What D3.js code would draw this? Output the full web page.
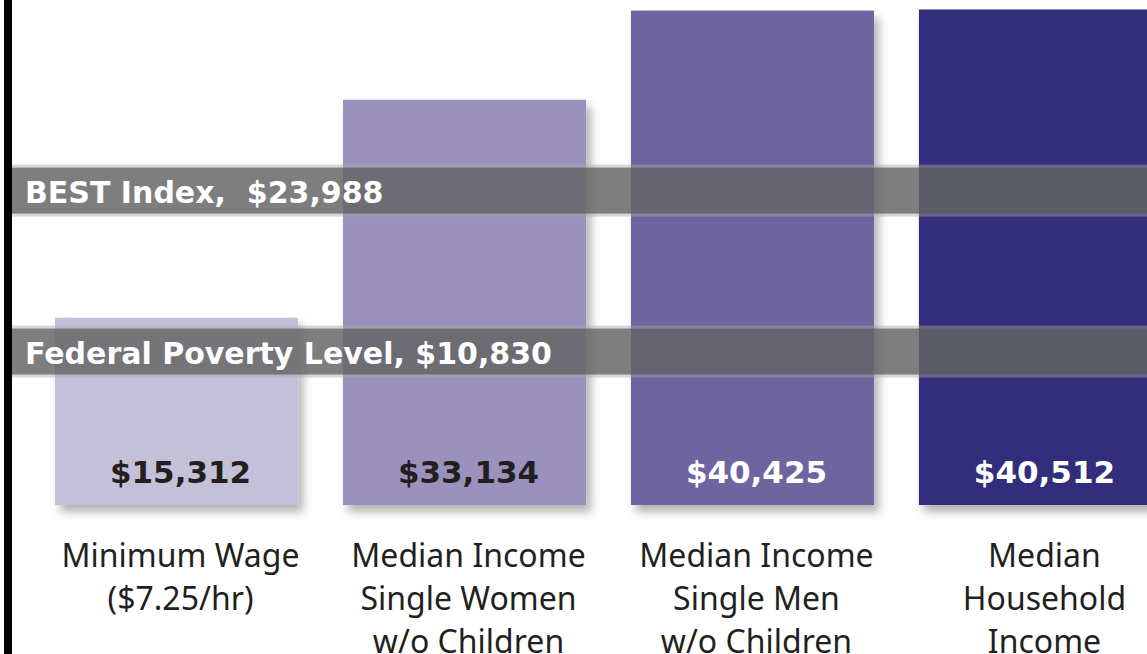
<!DOCTYPE html>
<html>
<head>
<meta charset="utf-8">
<script src="https://cdn.jsdelivr.net/npm/d3@7"></script>
<style>
  html, body { margin: 0; padding: 0; background: #fff; overflow: hidden; }
  svg { display: block; }
</style>
</head>
<body>
<svg id="vis"></svg>
<script>
// data
const categories = ["Minimum Wage", "Median Income Single Women", "Median Income Single Men", "Median Household Income"];
const categoryLines = [
  ["Minimum Wage", "($7.25/hr)"],
  ["Median Income", "Single Women", "w/o Children"],
  ["Median Income", "Single Men", "w/o Children"],
  ["Median", "Household", "Income"]
];
const incomes = [15312, 33134, 40425, 40512];
const valueLabels = ["$15,312", "$33,134", "$40,425", "$40,512"];
const refNames = ["BEST Index,  $23,988", "Federal Poverty Level, $10,830"];
const refValues = [23988, 10830];

const barColors = ["#c5c0da", "#9a92bc", "#6e65a0", "#302e7c"];
const labelColors = ["#231f20", "#231f20", "#ffffff", "#ffffff"];

const width = 1147,
      height = 654,
      baseline = 505;

const svg = d3.select("#vis")
  .attr("width", width)
  .attr("height", height);

const defs = svg.append("defs");
defs.append("filter")
    .attr("id", "shadow")
    .attr("x", "-10%").attr("y", "-10%")
    .attr("width", "130%").attr("height", "130%")
  .append("feDropShadow")
    .attr("dx", 5).attr("dy", 7)
    .attr("stdDeviation", 5)
    .attr("flood-color", "#000")
    .attr("flood-opacity", 0.3);

const x = d3.scaleBand()
  .domain(categories)
  .range([55, 1162])
  .paddingInner(0.156)
  .paddingOuter(0);

const y = d3.scaleLinear()
  .domain([0, 40470])
  .range([baseline, 10]);

// bars
svg.append("g")
  .selectAll("rect")
  .data(incomes)
  .join("rect")
    .attr("x", (d, i) => x(categories[i]))
    .attr("y", d => y(d))
    .attr("width", x.bandwidth())
    .attr("height", d => baseline - y(d))
    .attr("fill", (d, i) => barColors[i])
    .attr("filter", "url(#shadow)");

// value labels inside bars
svg.append("g")
  .selectAll("text")
  .data(valueLabels)
  .join("text")
    .attr("x", (d, i) => x(categories[i]) + x.bandwidth() / 2 + 4)
    .attr("y", baseline - 22)
    .attr("text-anchor", "middle")
    .attr("font-family", "DejaVu Sans")
    .attr("font-weight", "bold")
    .attr("font-size", 31)
    .attr("fill", (d, i) => labelColors[i])
    .text(d => d);

// reference bands
const bands = svg.append("g");
refValues.forEach((v, i) => {
  const g = bands.append("g");
  g.append("rect")
    .attr("x", 11)
    .attr("y", y(v) - 47)
    .attr("width", width - 11)
    .attr("height", 52)
    .attr("fill", "#a8a8a8")
    .attr("opacity", 0.45);
  g.append("rect")
    .attr("x", 11)
    .attr("y", y(v) - 44)
    .attr("width", width - 11)
    .attr("height", 46)
    .attr("fill", "#585858")
    .attr("opacity", 0.7);
  g.append("text")
    .attr("x", 25)
    .attr("y", y(v) - 9)
    .attr("font-family", "DejaVu Sans")
    .attr("font-weight", "bold")
    .attr("font-size", 30)
    .attr("fill", "#fff")
    .style("white-space", "pre")
    .text(refNames[i]);
});

// category labels
const cat = svg.append("g")
  .selectAll("text")
  .data(categoryLines)
  .join("text")
    .attr("text-anchor", "middle")
    .attr("font-family", "Noto Sans")
    .attr("font-size", 32)
    .attr("fill", "#231f20")
    .attr("transform", (d, i) => `translate(${x(categories[i]) + x.bandwidth() / 2 + 4},567)`);

cat.selectAll("tspan")
  .data(d => d)
  .join("tspan")
    .attr("x", 0)
    .attr("y", (d, j) => j * 43)
    .text(d => d);

// left frame line
svg.append("rect")
  .attr("x", 4)
  .attr("y", 0)
  .attr("width", 8)
  .attr("height", height)
  .attr("fill", "#000");
</script>
</body>
</html>
